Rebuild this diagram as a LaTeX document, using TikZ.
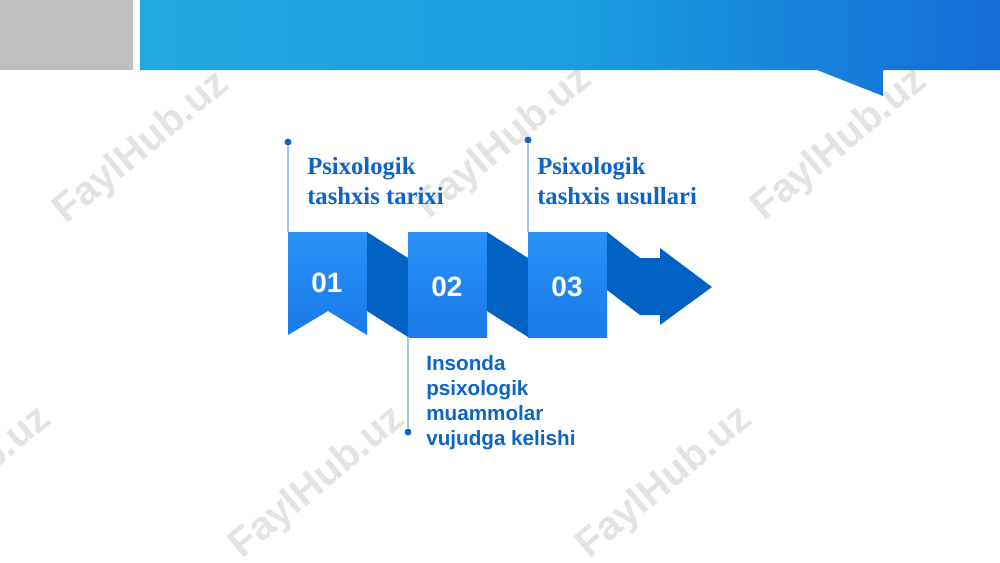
\documentclass[tikz,border=0pt]{standalone}
\usepackage{fontspec}
\setmainfont{Liberation Serif}
\setsansfont{Liberation Sans}

\definecolor{boxtop}{RGB}{42,146,246}
\definecolor{boxbot}{RGB}{26,122,232}
\definecolor{folddark}{RGB}{2,98,196}
\definecolor{labelblue}{RGB}{12,100,198}
\definecolor{leaderblue}{RGB}{160,196,232}
\definecolor{bannerleft}{RGB}{34,168,224}
\definecolor{bannermid}{RGB}{28,158,224}
\definecolor{bannerright}{RGB}{20,108,214}

\begin{document}
\begin{tikzpicture}[x=0.75pt,y=-0.75pt,
    every node/.style={inner sep=0pt},
    stepbox/.style={top color=boxtop, bottom color=boxbot, draw=none},
    fold/.style={fill=folddark, draw=none},
    stepnum/.style={text=white, font=\sffamily\bfseries\fontsize{21}{25}\selectfont},
    serifnote/.style={text=labelblue, align=left, font=\rmfamily\bfseries\fontsize{18.5}{22.5}\selectfont},
    sansnote/.style={text=labelblue, align=left, font=\sffamily\bfseries\fontsize{15.5}{18.75}\selectfont},
    leader/.style={draw=leaderblue, line width=0.9pt},
    dot/.style={circle, fill=labelblue, minimum size=5.2pt},
    watermark/.style={text=black!11, rotate=40, font=\sffamily\bfseries\fontsize{30}{30}\selectfont}]
    \useasboundingbox (0,0) rectangle (1000,562);

    % watermarks
    \node[watermark] (wm1) at (142,148) {FaylHub.uz};
    \node[watermark] (wm2) at (505,143) {FaylHub.uz};
    \node[watermark] (wm3) at (840,145) {FaylHub.uz};
    \node[watermark] (wm4) at (-36,483) {FaylHub.uz};
    \node[watermark] (wm5) at (318,483) {FaylHub.uz};
    \node[watermark] (wm6) at (665,483) {FaylHub.uz};

    % header
    \fill[black!25] (0,0) rectangle (133,70);
    \shade[left color=bannerleft, right color=bannerright, middle color=bannermid]
        (140,0) -- (1000,0) -- (1000,70) -- (883,70) -- (883,96) -- (817,70) -- (140,70) -- cycle;

    % 01
    \path[stepbox] (288,232) -- (367,232) -- (367,335) -- (328,311) -- (288,335) -- cycle;
    \path[fold] (367,232) -- (408,258) -- (408,337) -- (367,311) -- cycle;
    % 02
    \path[stepbox] (408,232) rectangle (487,337);
    \path[fold] (487,232) -- (528,258) -- (528,337) -- (487,311) -- cycle;
    % 03
    \path[stepbox] (528,232) rectangle (607,337);
    \path[fold] (607,232) -- (640,258) -- (660,258) -- (660,248) -- (712,287)
        -- (660,325) -- (660,315) -- (640,315) -- (607,290) -- cycle;

    \node[stepnum] (n1) at (327,283) {01};
    \node[stepnum] (n2) at (447,287) {02};
    \node[stepnum] (n3) at (567,287) {03};

    \coordinate (top1) at (288,232);
    \coordinate (bot2) at (408,337);
    \coordinate (top3) at (528,232);

    \node[dot] (d1) at (288,142) {};
    \node[dot] (d2) at (408,432) {};
    \node[dot] (d3) at (528,140) {};

    \draw[leader] (d1) -- (top1);
    \draw[leader] (bot2) -- (d2);
    \draw[leader] (d3) -- (top3);

    \node[serifnote, anchor=north west] (t1) at (307,157) {Psixologik\\tashxis tarixi};
    \node[sansnote, anchor=north west] (t2) at (426,355) {Insonda\\psixologik\\muammolar\\vujudga kelishi};
    \node[serifnote, anchor=north west] (t3) at (537,157) {Psixologik\\tashxis usullari};
\end{tikzpicture}
\end{document}
